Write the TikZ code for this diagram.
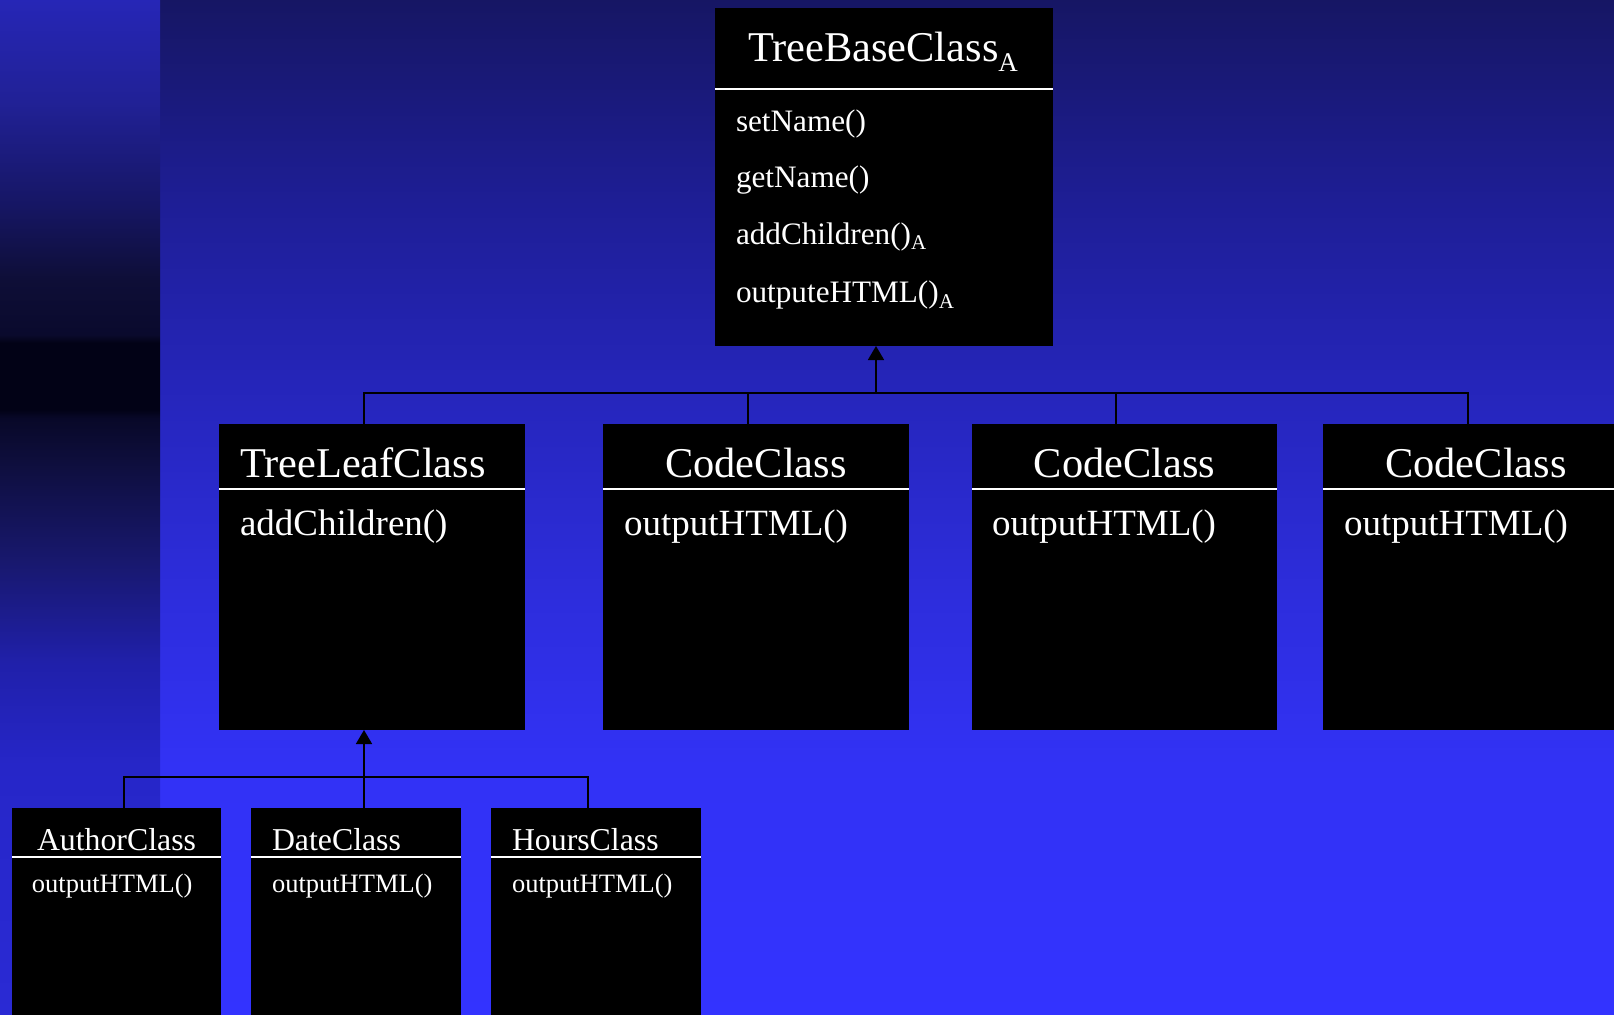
\documentclass[tikz,border=0pt]{standalone}
\usepackage{fontspec}
\setmainfont{Liberation Serif}
\usetikzlibrary{arrows.meta}
\definecolor{mA}{RGB}{51,51,255}
\definecolor{mB}{RGB}{50,50,245}
\definecolor{mC}{RGB}{44,44,215}
\definecolor{mD}{RGB}{38,38,190}
\definecolor{mE}{RGB}{30,30,150}
\definecolor{mF}{RGB}{22,22,100}
\definecolor{sA}{RGB}{42,42,212}
\definecolor{sB}{RGB}{38,38,200}
\definecolor{sC}{RGB}{32,32,170}
\definecolor{sD}{RGB}{24,24,110}
\definecolor{sE}{RGB}{14,14,60}
\definecolor{sF}{RGB}{8,8,40}
\definecolor{sG}{RGB}{2,2,22}
\definecolor{sH}{RGB}{10,10,45}
\definecolor{sI}{RGB}{14,14,55}
\definecolor{sJ}{RGB}{22,22,100}
\definecolor{sK}{RGB}{33,33,150}
\definecolor{sL}{RGB}{38,38,182}
\pgfdeclareverticalshading{mainbg}{100bp}{color(0bp)=(mA); color(25bp)=(mA); color(37.3bp)=(mB); color(47.3bp)=(mC); color(54.9bp)=(mD); color(64.9bp)=(mE); color(75bp)=(mF); color(100bp)=(mF)}
\pgfdeclareverticalshading{stripbg}{100bp}{color(0bp)=(sA); color(25bp)=(sA); color(37.3bp)=(sB); color(42.3bp)=(sC); color(47.3bp)=(sD); color(52.3bp)=(sE); color(54.4bp)=(sF); color(54.8bp)=(sG); color(58.1bp)=(sG); color(58.5bp)=(sH); color(61.2bp)=(sI); color(64.9bp)=(sJ); color(70bp)=(sK); color(75bp)=(sL); color(100bp)=(sL)}
\tikzset{
  cbox/.style={rectangle, fill=black, draw=none, anchor=north west, inner sep=0pt, outer sep=0pt},
  sepline/.style={white, line width=1pt},
  conn/.style={black, line width=0.9pt},
  inh/.style={conn, -{Triangle[width=8pt,length=7pt]}},
  txt/.style={text=white, anchor=base west, inner sep=0pt, outer sep=0pt},
  fbaseT/.style={txt, font=\fontsize{21.2pt}{24pt}\selectfont},
  fbaseM/.style={txt, font=\fontsize{15.6pt}{18pt}\selectfont},
  fmidT/.style={txt, font=\fontsize{21.2pt}{24pt}\selectfont},
  fmidM/.style={txt, font=\fontsize{18.5pt}{22pt}\selectfont},
  flowT/.style={txt, font=\fontsize{15.9pt}{18pt}\selectfont},
  flowM/.style={txt, font=\fontsize{13.25pt}{16pt}\selectfont},
}
\newcommand{\subA}[2]{\raisebox{-#1}{\fontsize{#2}{#2}\selectfont A}}
\begin{document}
\begin{tikzpicture}[x=0.5pt,y=-0.5pt]
\clip (0,0) rectangle (1614,1014);
\shade[shading=mainbg] (0,0) rectangle (1614,1014);
\shade[shading=stripbg] (0,0) rectangle (160,1014);

% boxes
\node[cbox, minimum width=169pt, minimum height=169pt] (base) at (715,8) {};
\node[cbox, minimum width=153pt, minimum height=153pt] (leaf) at (219,424) {};
\node[cbox, minimum width=153pt, minimum height=153pt] (code1) at (603,424) {};
\node[cbox, minimum width=152.5pt, minimum height=153pt] (code2) at (972,424) {};
\node[cbox, minimum width=153pt, minimum height=153pt] (code3) at (1323,424) {};
\node[cbox, minimum width=104.5pt, minimum height=112pt] (author) at (12,808) {};
\node[cbox, minimum width=105pt, minimum height=112pt] (date) at (251,808) {};
\node[cbox, minimum width=105pt, minimum height=112pt] (hours) at (491,808) {};

% separators
\foreach \b/\d in {base/40.5pt, leaf/32.5pt, code1/32.5pt, code2/32.5pt, code3/32.5pt, author/24.5pt, date/24.5pt, hours/24.5pt}
  \draw[sepline] ([yshift=-\d]\b.north west) -- ([yshift=-\d]\b.north east);

% texts
\node[fbaseT] (baseT) at (748,61) {TreeBaseClass\subA{5pt}{13.5pt}};
\node[fbaseM] (bm1) at (736,131) {setName()};
\node[fbaseM] (bm2) at (736,187) {getName()};
\node[fbaseM] (bm3) at (736,244) {addChildren()\subA{2.5pt}{10.5pt}};
\node[fbaseM] (bm4) at (736,302) {outputeHTML()\subA{3pt}{10.5pt}};

\node[fmidT] (leafT) at (240,477) {TreeLeafClass};
\node[fmidM] (leafM) at (240,535) {addChildren()};
\node[fmidT, anchor=base] (c1T) at (756,477) {CodeClass};
\node[fmidM] (c1M) at (624,535) {outputHTML()};
\node[fmidT, anchor=base] (c2T) at (1124.5,477) {CodeClass};
\node[fmidM] (c2M) at (992,535) {outputHTML()};
\node[fmidT, anchor=base] (c3T) at (1476,477) {CodeClass};
\node[fmidM] (c3M) at (1344,535) {outputHTML()};

\node[flowT, anchor=base] (aT) at (116.5,850) {AuthorClass};
\node[flowM] (aM) at (32,892) {outputHTML()};
\node[flowT] (dT) at (272,850) {DateClass};
\node[flowM] (dM) at (272,892) {outputHTML()};
\node[flowT] (hT) at (512,850) {HoursClass};
\node[flowM] (hM) at (512,892) {outputHTML()};

% connectors, top level
\coordinate (tB) at (876,393);
\coordinate (tL) at (364,393);
\coordinate (t1) at (748,393);
\coordinate (t2) at (1116,393);
\coordinate (t3) at (1468,393);
\draw[conn] (tL |- leaf.north) -- (tL) -- (t3) -- (t3 |- code3.north);
\draw[conn] (t1) -- (t1 |- code1.north);
\draw[conn] (t2) -- (t2 |- code2.north);
\draw[inh] (tB) -- (tB |- base.south);

% connectors, bottom level
\coordinate (uL) at (364,777);
\coordinate (uA) at (124,777);
\coordinate (uH) at (588,777);
\draw[conn] (uA |- author.north) -- (uA) -- (uH) -- (uH |- hours.north);
\draw[conn] (uL |- date.north) -- (uL);
\draw[inh] (uL) -- (uL |- leaf.south);
\end{tikzpicture}
\end{document}
